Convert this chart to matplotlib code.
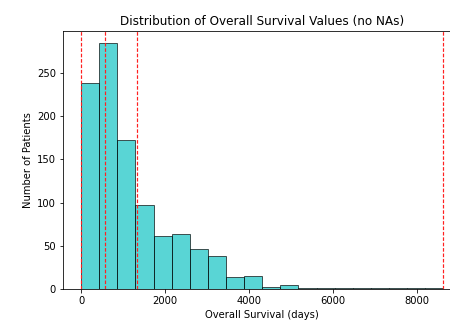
import numpy as np
import matplotlib
matplotlib.use("Agg")
import matplotlib.pyplot as plt

# Histogram: 20 equal bins between min and max survival
survival_min = 0
survival_max = 8640
bin_counts = [238, 284, 172, 97, 61, 64, 46, 38, 14, 15,
              3, 5, 1, 1, 2, 1, 2, 1, 2, 2]
# red reference lines (days)
ref_lines = [0, 572, 1327, 8640]

edges = np.linspace(survival_min, survival_max, len(bin_counts) + 1)
centers = (edges[:-1] + edges[1:]) / 2

fig = plt.figure(figsize=(450 / 72, 329 / 72), dpi=72)
# axes run past the right edge, as in the cropped original
ax = fig.add_axes([62.9 / 450, 0.1207, 398.7 / 450, 0.785])

ax.hist(centers, bins=edges, weights=bin_counts, color="c", edgecolor="k", alpha=0.65)
for x in ref_lines:
    ax.axvline(x, color="#ff2020", linestyle=(0, (3, 1.5)), linewidth=1.2, zorder=3)

ax.set_title("Distribution of Overall Survival Values (no NAs)")
ax.set_xlabel("Overall Survival (days)")
ax.set_ylabel("Number of Patients")

fig.savefig("out.png", dpi=72)
